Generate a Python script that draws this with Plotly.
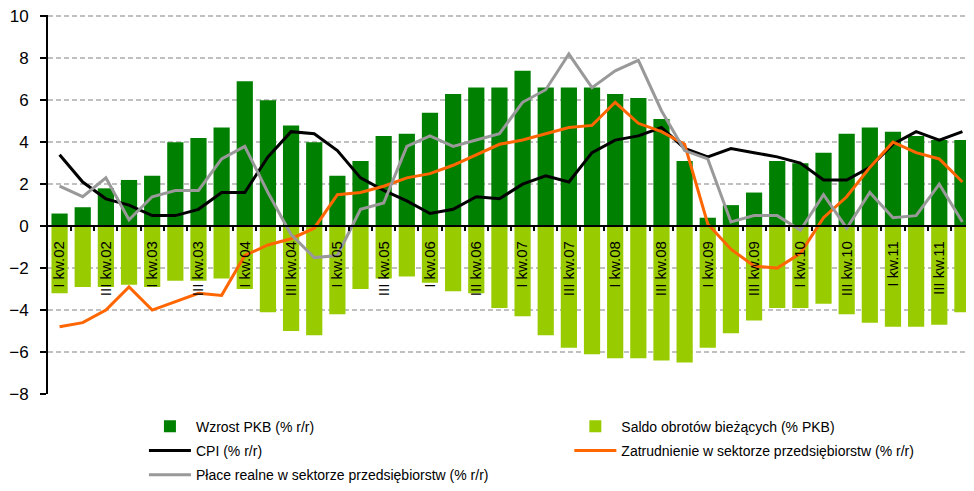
import plotly.graph_objects as go

tick_labels = ["I kw.02", "III kw.02", "I kw.03", "III kw.03", "I kw.04", "III kw.04",
               "I kw.05", "III kw.05", "I kw.06", "III kw.06", "I kw.07", "III kw.07",
               "I kw.08", "III kw.08", "I kw.09", "III kw.09", "I kw.10", "III kw.10",
               "I kw.11", "III kw.11"]

# quarterly data Q1 2002 .. Q4 2011 (40 quarters)
gdp = [0.6, 0.9, 1.8, 2.2, 2.4, 4.0, 4.2, 4.7, 6.9, 6.0, 4.8, 4.0,
       2.4, 3.1, 4.3, 4.4, 5.4, 6.3, 6.6, 6.6, 7.4, 6.6, 6.6, 6.6,
       6.3, 6.1, 5.1, 3.1, 0.4, 1.0, 1.6, 3.1, 3.0, 3.5, 4.4, 4.7,
       4.5, 4.3, 4.1, 4.1]
current_account = [-3.2, -2.9, -2.9, -2.8, -2.9, -2.6, -2.6, -2.5, -3.0, -4.1, -5.0, -5.2,
                   -4.2, -3.0, -2.5, -2.4, -2.7, -3.1, -3.2, -3.9, -4.3, -5.2, -5.8, -6.1,
                   -6.3, -6.3, -6.4, -6.5, -5.8, -5.1, -4.5, -3.9, -3.9, -3.7, -4.2, -4.6,
                   -4.8, -4.8, -4.7, -4.1]
cpi = [3.4, 2.1, 1.3, 1.0, 0.5, 0.5, 0.8, 1.6, 1.6, 3.3, 4.5, 4.4,
       3.6, 2.3, 1.7, 1.2, 0.6, 0.8, 1.4, 1.3, 2.0, 2.4, 2.1, 3.5,
       4.1, 4.3, 4.7, 3.7, 3.3, 3.7, 3.5, 3.3, 3.0, 2.2, 2.2, 2.8,
       3.9, 4.5, 4.1, 4.5]
employment = [-4.8, -4.6, -4.0, -2.9, -4.0, -3.6, -3.2, -3.3, -1.4, -0.9, -0.6, -0.1,
              1.5, 1.6, 1.9, 2.3, 2.5, 2.9, 3.4, 3.9, 4.1, 4.4, 4.7, 4.8,
              5.9, 4.9, 4.5, 3.9, 0.1, -1.1, -1.9, -2.0, -1.3, 0.4, 1.4, 2.8,
              4.0, 3.5, 3.2, 2.1]
real_wages = [1.9, 1.4, 2.3, 0.3, 1.4, 1.7, 1.7, 3.2, 3.8, 1.6, -0.4, -1.5,
              -1.4, 0.8, 1.1, 3.8, 4.3, 3.8, 4.1, 4.4, 5.9, 6.5, 8.2, 6.6,
              7.4, 7.9, 5.5, 3.6, 3.2, 0.2, 0.5, 0.5, -0.2, 1.5, -0.1, 1.6,
              0.4, 0.5, 2.0, 0.2]

names = ["Wzrost PKB (% r/r)", "Saldo obrotów bieżących (% PKB)", "CPI (% r/r)",
         "Zatrudnienie w sektorze przedsiębiorstw (% r/r)",
         "Płace realne w sektorze przedsiębiorstw (% r/r)"]

n = len(gdp)
x = list(range(n))
tick_positions = x[::2]
boundaries = [i + 0.5 for i in range(n)]

FONT = "Liberation Sans, Arial, sans-serif"

fig = go.Figure()
fig.add_trace(go.Bar(x=x, y=gdp, name=names[0], marker_color="#008000",
                     marker_line_width=0, width=0.7, legend="legend", legendgroup="g0"))
fig.add_trace(go.Bar(x=x, y=current_account, name=names[1], marker_color="#99cc00",
                     marker_line_width=0, width=0.7, legend="legend2", legendgroup="g1"))
fig.add_trace(go.Scatter(x=x, y=cpi, name=names[2], mode="lines",
                         line=dict(color="#000000", width=3), legend="legend", legendgroup="g2"))
fig.add_trace(go.Scatter(x=x, y=employment, name=names[3], mode="lines",
                         line=dict(color="#ff6600", width=3), legend="legend2", legendgroup="g3"))
fig.add_trace(go.Scatter(x=x, y=real_wages, name=names[4], mode="lines",
                         line=dict(color="#999999", width=3), legend="legend", legendgroup="g4"))

ymin, ymax = -8, 10
legend_common = dict(orientation="v", yanchor="top", bgcolor="rgba(0,0,0,0)",
                     font=dict(family=FONT, size=14, color="#000000"),
                     itemwidth=42, tracegroupgap=3, traceorder="grouped")

fig.update_layout(
    width=966, height=483,
    margin=dict(l=40, r=0, t=7, b=97, autoexpand=False),
    paper_bgcolor="white", plot_bgcolor="white",
    barmode="overlay",
    showlegend=True,
    legend=dict(x=0.1036, y=-0.044, xanchor="left", **legend_common),
    legend2=dict(x=0.563, y=-0.044, xanchor="left", **legend_common),
    xaxis=dict(
        range=[-0.5, n - 0.5], automargin=False,
        anchor="free", position=(0 - ymin) / (ymax + 0.06 - ymin),
        tickmode="array", tickvals=tick_positions, ticktext=tick_labels,
        tickangle=-90, ticks="", ticklabelstandoff=8,
        tickfont=dict(family=FONT, size=15, color="#000000"),
        showline=True, linecolor="#000000", linewidth=2,
        showgrid=False, zeroline=False,
        minor=dict(tickmode="array", tickvals=boundaries, ticks="outside",
                   ticklen=4, tickwidth=1.5, tickcolor="#000000", showgrid=False),
    ),
    yaxis=dict(
        range=[ymin, ymax + 0.06], automargin=False,
        tickmode="array", tickvals=list(range(ymin, ymax + 1, 2)),
        ticklabeloverflow="allow",
        showline=True, linecolor="#000000", linewidth=2,
        ticks="outside", ticklen=6, tickwidth=1.5, tickcolor="#000000",
        ticklabelstandoff=8,
        tickfont=dict(family=FONT, size=17, color="#000000"),
        showgrid=True, gridcolor="#c0c0c0", gridwidth=1.5, griddash="5px,3px",
        zeroline=False,
    ),
)

fig.write_html("out.html")
